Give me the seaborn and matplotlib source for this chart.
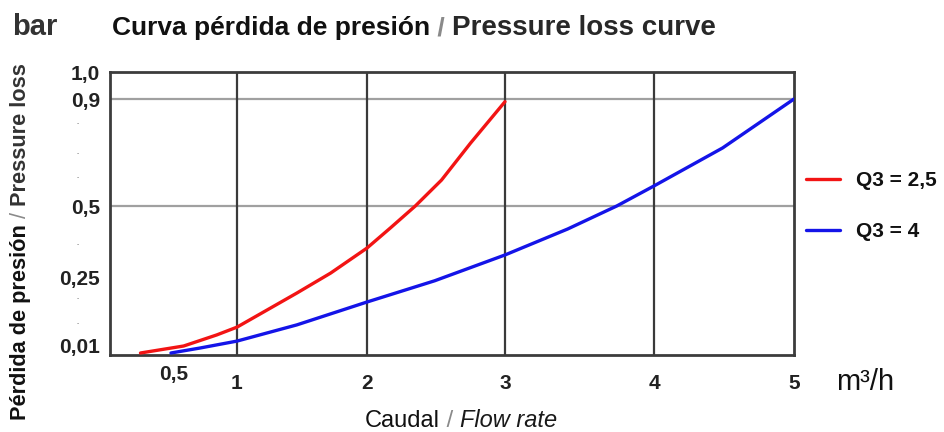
import numpy as np
import pandas as pd
import matplotlib
matplotlib.use("Agg")
import matplotlib.pyplot as plt
import seaborn as sns

# ---------------- data ----------------
red_label = "Q3 = 2,5"
red_x = [0.24, 0.58, 0.84, 1.0, 1.46, 1.72, 2.0, 2.17, 2.35, 2.54, 2.75, 3.0]
red_y = [0.002, 0.009, 0.046, 0.074, 0.196, 0.267, 0.354, 0.424, 0.5, 0.597, 0.735, 0.89]

blue_label = "Q3 = 4"
blue_x = [0.48, 0.71, 1.0, 1.46, 2.0, 2.49, 3.0, 3.42, 3.75, 4.0, 4.49, 5.0]
blue_y = [0.002, 0.007, 0.024, 0.082, 0.164, 0.24, 0.33, 0.42, 0.5, 0.575, 0.717, 0.9]

x_ticks = [1, 2, 3, 4, 5]
x_tick_labels = ["1", "2", "3", "4", "5"]
x_minor_ticks = [0.5]
x_minor_labels = ["0,5"]
y_ticks = [0.01, 0.25, 0.5, 0.9, 1.0]
y_tick_labels = ["0,01", "0,25", "0,5", "0,9", "1,0"]
y_dot_ticks = [0.09, 0.18, 0.37, 0.61, 0.70, 0.81]
x_grid = [1, 2, 3, 4]
y_grid = [0.5, 0.9]

df = pd.concat([
    pd.DataFrame({"x": red_x, "y": red_y, "serie": red_label}),
    pd.DataFrame({"x": blue_x, "y": blue_y, "serie": blue_label}),
], ignore_index=True)

# ---------------- style ----------------
sns.set_theme(style="white")
plt.rcParams["font.family"] = ["Liberation Sans", "DejaVu Sans"]

fig = plt.figure(figsize=(9.45, 4.32), dpi=100)
ax = fig.add_axes([110 / 945, 1 - 355 / 432, (794 - 110) / 945, (355 - 72) / 432])

sns.lineplot(data=df, x="x", y="y", hue="serie", sort=False, estimator=None,
             palette={red_label: "#f21414", blue_label: "#1414e8"},
             linewidth=2.4, ax=ax, legend=True, zorder=5)


def make_scale(vals, pos):
    vals = np.asarray(vals, float)
    pos = np.asarray(pos, float)
    s0 = (pos[1] - pos[0]) / (vals[1] - vals[0])
    s1 = (pos[-1] - pos[-2]) / (vals[-1] - vals[-2])

    def fwd(v):
        v = np.asarray(v, dtype=float)
        return np.where(v < vals[0], pos[0] + (v - vals[0]) * s0,
                        np.where(v > vals[-1], pos[-1] + (v - vals[-1]) * s1,
                                 np.interp(v, vals, pos)))

    def inv(p):
        p = np.asarray(p, dtype=float)
        return np.where(p < pos[0], vals[0] + (p - pos[0]) / s0,
                        np.where(p > pos[-1], vals[-1] + (p - pos[-1]) / s1,
                                 np.interp(p, pos, vals)))
    return fwd, inv


ax.set_xscale("function", functions=make_scale([0, 1, 2, 3, 4, 5], [0, 127, 257, 395, 544, 684]))
ax.set_yscale("function", functions=make_scale([0, 0.01, 0.25, 0.5, 0.9, 1.0], [0, 10, 77, 149, 256, 283]))
ax.set_xlim(0, 5)
ax.set_ylim(0, 1.0)

# grid lines
for gx in x_grid:
    ax.axvline(gx, color="#3a3a3a", lw=1.6, zorder=2)
for gy in y_grid:
    ax.axhline(gy, color="#a0a0a0", lw=1.6, zorder=1)

for s in ax.spines.values():
    s.set_color("#3c3c3c")
    s.set_linewidth(2.0)

tick_font = dict(fontsize=15, fontweight="bold", color="#222222")
ax.set_xticks(x_ticks)
ax.set_xticklabels(x_tick_labels, **tick_font)
ax.set_xticks(x_minor_ticks, minor=True)
ax.set_xticklabels(x_minor_labels, minor=True, **tick_font)
ax.tick_params(axis="x", which="major", length=0, pad=14)
ax.tick_params(axis="x", which="minor", length=0, pad=7)

ax.set_yticks(y_ticks)
ax.set_yticklabels(y_tick_labels, **tick_font)
ax.set_yticks(y_dot_ticks, minor=True)
ax.set_yticklabels(["·"] * len(y_dot_ticks), minor=True, fontsize=9, color="#777777")
ax.tick_params(axis="y", which="major", length=0, pad=7)
ax.tick_params(axis="y", which="minor", length=0, pad=22)

ax.set_xlabel("")
ax.set_ylabel("")

# legend
handles, labels = ax.get_legend_handles_labels()
ax.get_legend().remove()
leg = fig.legend(handles, labels, loc="upper left", bbox_to_anchor=(806 / 945, 1 - 171 / 432),
                 frameon=False, borderpad=0, borderaxespad=0, handlelength=1.65,
                 handletextpad=0.75, labelspacing=1.55,
                 prop={"size": 15, "weight": "bold"})
for t in leg.get_texts():
    t.set_color("#111111")

# title pieces (shared baseline)
title_base = 1 - 35 / 432
fig.text(12 / 945, title_base, "bar", fontsize=21, fontweight="bold", color="#333333",
         va="baseline", ha="left")
t1 = fig.text(112 / 945, title_base, "Curva pérdida de presión", fontsize=19,
              fontweight="bold", color="#111111", va="baseline", ha="left")
t2 = ax.annotate(" / ", xy=(1, title_base), xycoords=(t1, fig.transFigure), va="baseline",
                 ha="left", fontsize=19, fontweight="bold", color="#8a8a8a",
                 annotation_clip=False)
ax.annotate("Pressure loss curve", xy=(1, title_base), xycoords=(t2, fig.transFigure),
            va="baseline", ha="left", fontsize=20, fontweight="bold", color="#282828",
            annotation_clip=False)

# y label pieces (rotated)
y1 = fig.text(10 / 945, 1 - 420 / 432, "Pérdida de presión", rotation=90, fontsize=15.7,
              fontweight="bold", color="#111111", va="bottom", ha="left")
y2 = ax.annotate(" / ", xy=(0, 1), xycoords=y1, rotation=90, va="bottom", ha="left",
                 fontsize=15.7, color="#8a8a8a", annotation_clip=False)
ax.annotate("Pressure loss", xy=(0, 1), xycoords=y2, rotation=90, va="bottom", ha="left",
            fontsize=15.7, fontweight="bold", color="#333333", annotation_clip=False)

# x label pieces (shared baseline)
xl_base = 1 - 427 / 432
x1 = fig.text(365 / 945, xl_base, "Caudal", fontsize=17, color="#111111",
              va="baseline", ha="left")
x2 = ax.annotate(" / ", xy=(1, xl_base), xycoords=(x1, fig.transFigure), va="baseline",
                 ha="left", fontsize=17, color="#8a8a8a", annotation_clip=False)
ax.annotate("Flow rate", xy=(1, xl_base), xycoords=(x2, fig.transFigure), va="baseline",
            ha="left", fontsize=17, style="italic", color="#1a1a1a", annotation_clip=False)

fig.text(836 / 945, 1 - 382 / 432, "m³/h", fontsize=21, color="#111111", va="center", ha="left")

fig.savefig("out.png", dpi=100)
